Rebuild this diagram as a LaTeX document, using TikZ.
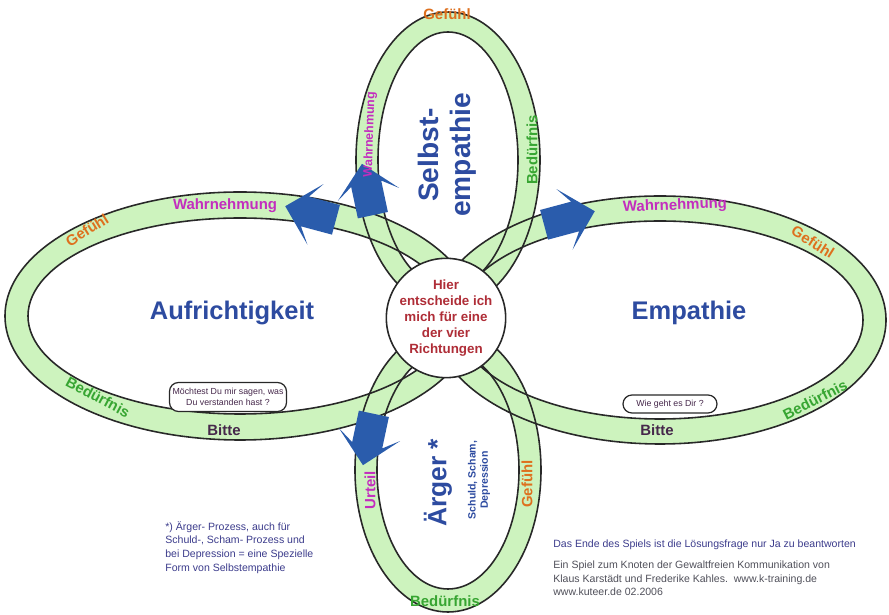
\documentclass[tikz,border=0pt]{standalone}
\usepackage{fontspec}
\setmainfont{Liberation Sans}
\usepackage{tikz}
\usepackage{xcolor}
\usetikzlibrary{shapes.arrows, positioning}

\definecolor{bandgruen}{RGB}{205,243,190}
\definecolor{randgrau}{RGB}{40,40,40}
\definecolor{titelblau}{RGB}{45,75,160}
\definecolor{pfeilblau}{RGB}{42,92,172}
\definecolor{wahrlila}{RGB}{195,45,190}
\definecolor{gefuehlorange}{RGB}{222,112,30}
\definecolor{beduerfgruen}{RGB}{55,165,50}
\definecolor{bittelila}{RGB}{70,40,75}
\definecolor{mitterot}{RGB}{175,45,55}
\definecolor{notizblau}{RGB}{60,60,140}
\definecolor{notizgrau}{RGB}{80,80,90}

\tikzstyle{band} = [fill=bandgruen, even odd rule]
\tikzstyle{kontur} = [draw=randgrau, line width=0.9pt]
\tikzstyle{titel} = [font=\bfseries\fontsize{14.5}{16}\selectfont, text=titelblau, inner sep=0pt]
\tikzstyle{wort} = [font=\bfseries\fontsize{8.5}{10}\selectfont, inner sep=0pt]
\tikzstyle{pille} = [draw=randgrau, fill=white, line width=0.7pt, rounded corners=0.18cm,
  font=\fontsize{5}{6}\selectfont, text=bittelila, align=center, inner sep=1pt]
\tikzstyle{pfeil} = [single arrow, fill=pfeilblau, draw=none, minimum height=1.05cm,
  inner sep=0.3cm, single arrow head extend=0.32cm, single arrow head indent=0.22cm]

\begin{document}
\begin{tikzpicture}
        % Hintergrund und Rahmen
        \fill[white] (0,0) rectangle (17.78,12.30);
        \useasboundingbox (0,0) rectangle (17.78,12.30);

        % Gruene Baender der vier Ellipsen
        \fill[band] (4.80,5.98) ellipse[x radius=4.70, y radius=2.48] (4.80,5.98) ellipse[x radius=4.24, y radius=1.96];
        \fill[band] (13.20,5.90) ellipse[x radius=4.52, y radius=2.48] (13.20,5.90) ellipse[x radius=4.06, y radius=1.98];
        \fill[band] (8.96,9.10) ellipse[x radius=1.84, y radius=2.96] (8.96,9.10) ellipse[x radius=1.40, y radius=2.56];
        \fill[band] (8.96,2.90) ellipse[x radius=1.86, y radius=2.84] (8.96,2.90) ellipse[x radius=1.42, y radius=2.38];

        % Konturen der Baender
        \draw[kontur] (4.80,5.98) ellipse[x radius=4.70, y radius=2.48];
        \draw[kontur] (4.80,5.98) ellipse[x radius=4.24, y radius=1.96];
        \draw[kontur] (13.20,5.90) ellipse[x radius=4.52, y radius=2.48];
        \draw[kontur] (13.20,5.90) ellipse[x radius=4.06, y radius=1.98];
        \draw[kontur] (8.96,9.10) ellipse[x radius=1.84, y radius=2.96];
        \draw[kontur] (8.96,9.10) ellipse[x radius=1.40, y radius=2.56];
        \draw[kontur] (8.96,2.90) ellipse[x radius=1.86, y radius=2.84];
        \draw[kontur] (8.96,2.90) ellipse[x radius=1.42, y radius=2.38];

        % Blaue Pfeile in die vier Richtungen
        \node[pfeil, rotate=165] (pfeilL) at (6.36,8.00) {};
        \node[pfeil, rotate=102] (pfeilO) at (7.38,8.36) {};
        \node[pfeil, rotate=15] (pfeilR) at (11.24,7.90) {};
        \node[pfeil, rotate=-102] (pfeilU) at (7.40,3.66) {};

        % Mitte: Entscheidungskreis
        \node[circle, draw=randgrau, line width=0.9pt, fill=white, minimum size=2.16cm, inner sep=0pt,
          align=center, text=mitterot, font=\bfseries\fontsize{7.6}{9}\selectfont] (mitte) at (8.92,5.94)
          {Hier\\entscheide ich\\mich für eine\\der vier\\Richtungen};

        % Titel der vier Richtungen
        \node[titel] (aufrichtigkeit) at (4.64,6.04) {Aufrichtigkeit};
        \node[titel] (empathie) at (13.78,6.04) {Empathie};
        \node[titel, font=\bfseries\fontsize{16}{18.5}\selectfont, rotate=90, align=center] (selbst) at (8.94,9.20) {Selbst-\\empathie};
        \node[titel, font=\bfseries\fontsize{15}{17}\selectfont, rotate=90] (aerger) at (8.76,2.64) {Ärger *};
        \node[titel, font=\bfseries\fontsize{6}{7}\selectfont, rotate=90, align=center] (aergerzusatz) at (9.58,2.70) {Schuld, Scham,\\Depression};

        % Beschriftungen: Aufrichtigkeit
        \node[wort, text=wahrlila] (wahrL) at (4.50,8.18) {Wahrnehmung};
        \node[wort, text=gefuehlorange, rotate=32] (gefuehlL) at (1.74,7.70) {Gefühl};
        \node[wort, text=beduerfgruen, rotate=-28] (beduerfL) at (1.96,4.36) {Bedürfnis};
        \node[wort, text=bittelila] (bitteL) at (4.48,3.70) {Bitte};
        \node[pille, minimum width=2.34cm, minimum height=0.58cm] (frageL) at (4.56,4.36) {Möchtest Du mir sagen, was\\Du verstanden hast ?};

        % Beschriftungen: Empathie
        \node[wort, text=wahrlila, rotate=2] (wahrR) at (13.50,8.18) {Wahrnehmung};
        \node[wort, text=gefuehlorange, rotate=-32] (gefuehlR) at (16.26,7.46) {Gefühl};
        \node[wort, text=beduerfgruen, rotate=27] (beduerfR) at (16.30,4.30) {Bedürfnis};
        \node[wort, text=bittelila] (bitteR) at (13.14,3.70) {Bitte};
        \node[pille, minimum width=1.88cm, minimum height=0.36cm] (frageR) at (13.40,4.22) {Wie geht es Dir ?};

        % Beschriftungen: Selbstempathie
        \node[wort, text=gefuehlorange] (gefuehlO) at (8.94,12.02) {Gefühl};
        \node[wort, text=wahrlila, rotate=88, font=\bfseries\fontsize{7}{8}\selectfont] (wahrO) at (7.40,9.60) {Wahrnehmung};
        \node[wort, text=beduerfgruen, rotate=90] (beduerfO) at (10.64,9.30) {Bedürfnis};

        % Beschriftungen: Ärger
        \node[wort, text=wahrlila, rotate=90] (urteilU) at (7.40,2.50) {Urteil};
        \node[wort, text=gefuehlorange, rotate=90] (gefuehlU) at (10.54,2.62) {Gefühl};
        \node[wort, text=beduerfgruen] (beduerfU) at (8.90,0.28) {Bedürfnis};

        % Fussnoten
        \node[anchor=north west, align=left, text=notizblau, font=\fontsize{6}{7.8}\selectfont, inner sep=0pt] (fussnote) at (3.30,1.88)
          {*) Ärger- Prozess, auch für\\Schuld-, Scham- Prozess und\\bei Depression = eine Spezielle\\Form von Selbstempathie};
        \node[anchor=west, text=notizblau, font=\fontsize{6}{7.8}\selectfont, inner sep=0pt] (spielende) at (11.06,1.40)
          {Das Ende des Spiels ist die Lösungsfrage nur Ja zu beantworten};
        \node[anchor=north west, align=left, text=notizgrau, font=\fontsize{6}{7.5}\selectfont, inner sep=0pt] (quelle) at (11.06,1.08)
          {Ein Spiel zum Knoten der Gewaltfreien Kommunikation von\\Klaus Karstädt und Frederike Kahles.\ \ www.k-training.de\\www.kuteer.de 02.2006};

\end{tikzpicture}
\end{document}
